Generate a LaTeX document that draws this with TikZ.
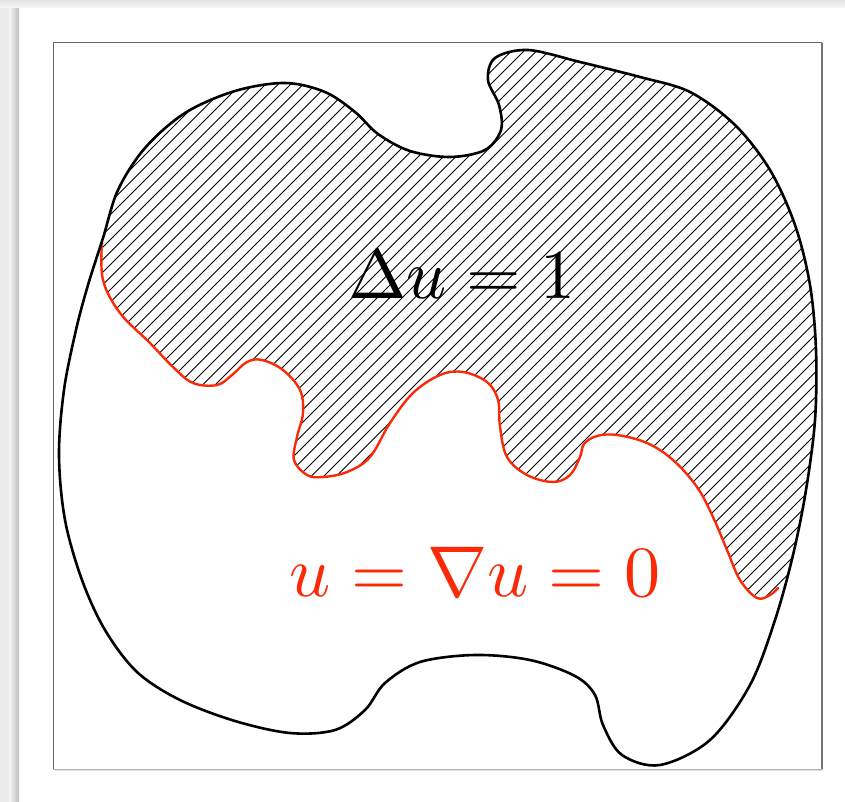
\documentclass[tikz,border=0pt]{standalone}
\usepackage{graphicx}
\definecolor{bcred}{RGB}{250,42,8}
\definecolor{bgstrip}{RGB}{234,234,234}
\begin{document}
\begin{tikzpicture}[x=1pt,y=-1pt,
  outline/.style={line width=2.6pt,black,line join=round},
  redline/.style={line width=2.4pt,bcred,line join=round,line cap=round},
  hatchline/.style={line width=0.9pt,black},
  framebox/.style={draw=black!60,line width=1pt},
  lbl/.style={anchor=base,inner sep=0pt}]

\useasboundingbox (0,0) rectangle (845,802);
% page background
\fill[bgstrip] (0,0) rectangle (845,802);
\fill[white] (19,8) rectangle (845,802);
\shade[left color=gray!8,right color=gray!50] (9,8) rectangle (19,802);
\shade[top color=gray!22,bottom color=gray!8] (0,0) rectangle (845,8);
% inner frame
\fill[gray!25] (55,769) rectangle (823,771);
\draw[framebox] (822,43) -- (53,43) -- (53,769);
\draw[draw=black!55,line width=1.2pt] (822,43) -- (822,769);
\draw[draw=black!30,line width=1pt] (53,769) -- (822,769);

% outer boundary (saved)
\path[save path=\blackpath] plot[smooth cycle,tension=0.55] coordinates {
 (103,238) (118,190) (145,148) (185,113) (235,91) (285,83) (325,92) (355,112)
 (378,134) (410,151) (450,157) (485,150) (501,130) (499,105) (488,80) (495,58) (528,50)
 (580,62) (640,77) (690,92) (735,125) (770,170) (795,225) (810,285) (816,350)
 (815,420) (806,490) (793,555) (775,620) (750,685) (710,740) (660,765) (622,755)
 (603,725) (595,695) (575,676) (530,660) (475,655) (420,662) (385,683) (365,710)
 (335,730) (290,733) (235,721) (180,700) (137,672) (105,630) (82,580) (65,520)
 (59,455) (64,390) (76,330) (88,285)};

% hatched region
\begin{scope}
  \clip[use path=\blackpath];
  \clip (102,242) -- plot[smooth,tension=0.6] coordinates {
   (102,242) (103,280) (120,313) (150,343) (173,367) (193,383) (217,385) (232,375)
   (247,362) (262,360) (283,370) (300,390) (303,413) (297,437) (294,460) (307,475)
   (323,477) (347,472) (370,457) (390,423) (413,393) (440,375) (463,372) (487,382)
   (498,400) (500,427) (507,457) (527,475) (553,482) (570,475) (580,457) (584,444)
   (597,436) (617,435) (647,443) (673,460) (697,487) (713,517) (727,550) (740,580)
   (757,598) (770,595) (778,588)} -- (835,588) -- (835,20) -- (40,20) -- (40,242) -- cycle;
  \foreach \c in {100,112.5,...,1480} {
    \draw[hatchline] (\c,0) -- (\c-900,900);
  }
\end{scope}

% free boundary (red)
\draw[redline] plot[smooth,tension=0.6] coordinates {
   (102,242) (103,280) (120,313) (150,343) (173,367) (193,383) (217,385) (232,375)
   (247,362) (262,360) (283,370) (300,390) (303,413) (297,437) (294,460) (307,475)
   (323,477) (347,472) (370,457) (390,423) (413,393) (440,375) (463,372) (487,382)
   (498,400) (500,427) (507,457) (527,475) (553,482) (570,475) (580,457) (584,444)
   (597,436) (617,435) (647,443) (673,460) (697,487) (713,517) (727,550) (740,580)
   (757,598) (770,595) (778,588)};

% outer boundary drawn
\draw[outline,use path=\blackpath];

% labels
\node[lbl] (eqin) at (462,298) {\scalebox{7.0}{$\Delta u = 1$}};
\node[lbl,text=bcred] (eqout) at (475,596) {\scalebox{7.2}{$u = \nabla u = 0$}};
\end{tikzpicture}
\end{document}
